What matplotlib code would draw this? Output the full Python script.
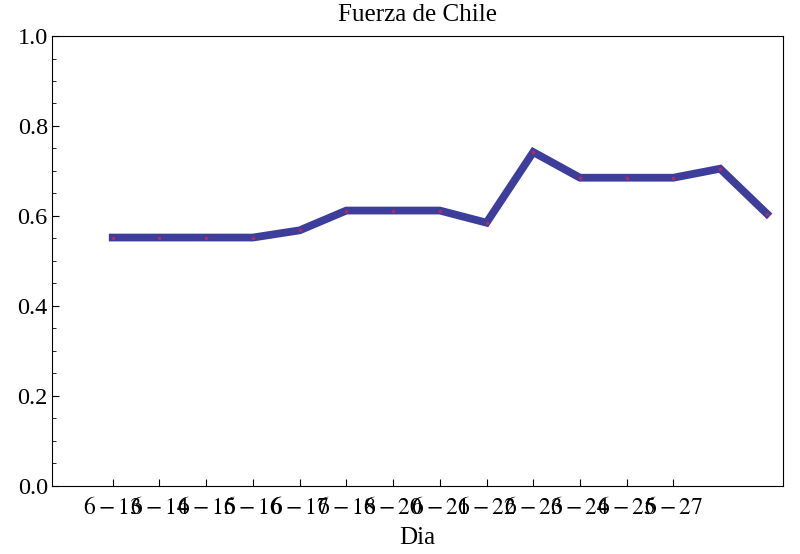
import matplotlib
matplotlib.use("Agg")
import matplotlib.pyplot as plt
from matplotlib.ticker import MultipleLocator

plt.rcParams['font.family'] = ['Liberation Serif', 'DejaVu Serif']
plt.rcParams['mathtext.fontset'] = 'stix'

# daily strength values (15 points, only 13 labels as in the original)
dias = ['6-13', '6-14', '6-15', '6-16', '6-17', '6-18', '6-20',
        '6-21', '6-22', '6-23', '6-24', '6-25', '6-27']
fuerza = [0.552, 0.552, 0.552, 0.552, 0.568, 0.612, 0.612, 0.612,
          0.585, 0.742, 0.685, 0.685, 0.685, 0.705, 0.605]

fig, ax = plt.subplots(figsize=(8, 5.54), dpi=100)
fig.subplots_adjust(left=0.065, right=0.979, top=0.935, bottom=0.123)

x = list(range(len(fuerza)))
ax.plot(x, fuerza, color='#3d3d9c', linewidth=5.6, solid_joinstyle='miter')
ax.plot(x, fuerza, linestyle='none', marker='o', markersize=2.6,
        color='#b8285a', markeredgewidth=0)

ax.set_xlim(-1.3, 14.35)
ax.set_ylim(0, 1.0)
ax.set_xticks(range(len(dias)))
ax.set_xticklabels(['$' + d + '$' for d in dias], fontsize=17)
ax.yaxis.set_major_locator(MultipleLocator(0.2))
ax.yaxis.set_minor_locator(MultipleLocator(0.05))
ax.tick_params(axis='y', labelsize=17.5, pad=3)
ax.tick_params(direction='in', length=5, top=False, right=False)
ax.tick_params(which='minor', direction='in', length=3)
ax.tick_params(axis='x', pad=8)

ax.set_title('Fuerza de Chile', fontsize=18, pad=10.5)
ax.set_xlabel('Dia', fontsize=18, labelpad=6)

fig.savefig('out.png', dpi=100)
